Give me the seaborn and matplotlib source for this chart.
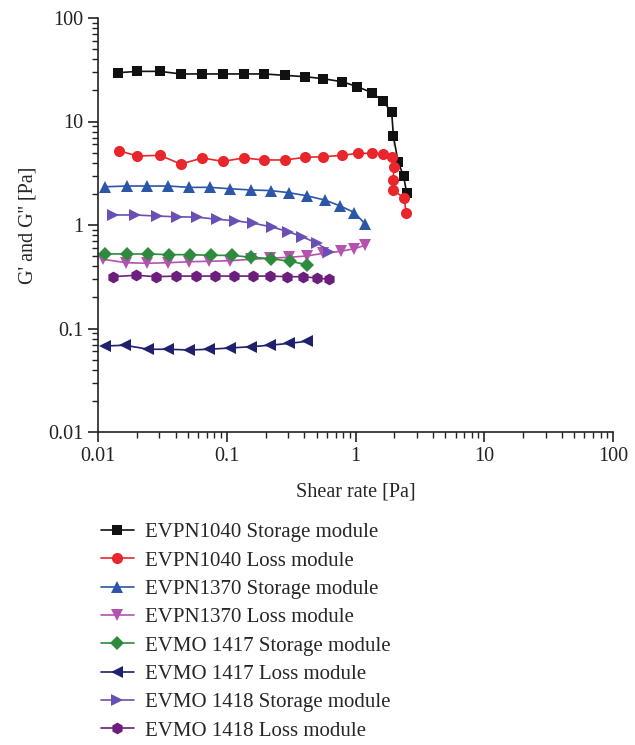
import numpy as np
import pandas as pd
import matplotlib
matplotlib.use("Agg")
import matplotlib.pyplot as plt
import matplotlib.ticker as mticker
import seaborn as sns

# ---------------------------------------------------------------------------
# Data
# ---------------------------------------------------------------------------
SERIES = [
    "EVPN1040 Storage module",
    "EVPN1040 Loss module",
    "EVPN1370 Storage module",
    "EVPN1370 Loss module",
    "EVMO 1417 Storage module",
    "EVMO 1417 Loss module",
    "EVMO 1418 Storage module",
    "EVMO 1418 Loss module",
]

evpn1040_g1_x = [0.0144, 0.020, 0.0303, 0.044, 0.0646, 0.093, 0.136, 0.195, 0.284, 0.406,
                 0.563, 0.791, 1.035, 1.34, 1.63, 1.91, 1.97, 1.97, 2.14, 2.36, 2.5]
evpn1040_g1_y = [29.6, 30.5, 30.5, 28.8, 28.8, 28.8, 28.8, 28.8, 27.9, 27.1,
                 25.9, 24.2, 21.7, 19.0, 15.8, 12.3, 8.6, 5.84, 4.09, 2.97, 2.05]

evpn1040_g2_x = [0.0146, 0.0202, 0.0303, 0.044, 0.0646, 0.093, 0.136, 0.195, 0.284, 0.406,
                 0.563, 0.79, 1.05, 1.34, 1.63, 1.91, 2.0, 1.95, 1.97, 2.39, 2.47]
evpn1040_g2_y = [5.22, 4.64, 4.71, 3.88, 4.44, 4.12, 4.44, 4.25, 4.25, 4.51,
                 4.57, 4.71, 4.93, 4.93, 4.85, 4.51, 3.61, 2.72, 2.18, 1.81, 1.32]

evpn1370_g1_x = [0.0113, 0.0167, 0.0242, 0.0352, 0.051, 0.0742, 0.106, 0.154, 0.220, 0.306,
                 0.423, 0.58, 0.759, 0.98, 1.19]
evpn1370_g1_y = [2.34, 2.38, 2.38, 2.38, 2.31, 2.31, 2.24, 2.18, 2.15, 2.05,
                 1.91, 1.74, 1.53, 1.32, 1.02]

evpn1370_g2_x = [0.0110, 0.0165, 0.0242, 0.0352, 0.051, 0.0729, 0.106, 0.154, 0.217, 0.306,
                 0.419, 0.563, 0.769, 0.975, 1.19]
evpn1370_g2_y = [0.466, 0.432, 0.427, 0.432, 0.442, 0.446, 0.452, 0.466, 0.477, 0.488,
                 0.502, 0.533, 0.557, 0.590, 0.637]

evmo1417_g1_x = [0.0113, 0.0167, 0.0246, 0.0356, 0.0519, 0.0751, 0.109, 0.155, 0.221, 0.310, 0.423]
evmo1417_g1_y = [0.525, 0.525, 0.525, 0.517, 0.517, 0.509, 0.509, 0.488, 0.472, 0.446, 0.413]

evmo1417_g2_x = [0.0113, 0.0162, 0.0246, 0.0352, 0.051, 0.0727, 0.106, 0.154, 0.217, 0.306, 0.419]
evmo1417_g2_y = [0.0678, 0.0689, 0.0630, 0.0630, 0.0620, 0.0630, 0.0648, 0.0667, 0.0689, 0.0719, 0.0752]

evmo1418_g1_x = [0.0131, 0.0194, 0.0286, 0.0413, 0.0591, 0.0836, 0.116, 0.161, 0.224, 0.301,
                 0.383, 0.506, 0.627]
evmo1418_g1_y = [1.25, 1.25, 1.22, 1.20, 1.19, 1.135, 1.10, 1.04, 0.957, 0.861,
                 0.771, 0.666, 0.552]

evmo1418_g2_x = [0.0130, 0.0197, 0.0282, 0.0404, 0.0577, 0.0816, 0.114, 0.159, 0.217, 0.296,
                 0.394, 0.500, 0.621]
evmo1418_g2_y = [0.3165, 0.327, 0.3165, 0.321, 0.321, 0.321, 0.321, 0.321, 0.321, 0.3165,
                 0.3165, 0.307, 0.299]

XS = [evpn1040_g1_x, evpn1040_g2_x, evpn1370_g1_x, evpn1370_g2_x,
      evmo1417_g1_x, evmo1417_g2_x, evmo1418_g1_x, evmo1418_g2_x]
YS = [evpn1040_g1_y, evpn1040_g2_y, evpn1370_g1_y, evpn1370_g2_y,
      evmo1417_g1_y, evmo1417_g2_y, evmo1418_g1_y, evmo1418_g2_y]

# ---------------------------------------------------------------------------
# Style
# ---------------------------------------------------------------------------
COLORS = ["#111111", "#E8262C", "#2C56A8", "#B552B0",
          "#2E8A3C", "#20216E", "#6A50B4", "#6B1E7C"]
MARKERS = ["s", "o", "^", "v", "D", "<", ">", "h"]
MSIZES = [7, 8, 8.5, 8.5, 7, 8.5, 8.5, 8.5]

sns.set_style("ticks")
plt.rcParams["font.family"] = ["Liberation Serif", "DejaVu Serif"]
plt.rcParams["font.size"] = 14.5
plt.rcParams["axes.linewidth"] = 1.2
plt.rcParams["axes.edgecolor"] = "#222222"

df = pd.concat(
    [pd.DataFrame({"x": x, "y": y, "series": name}) for name, x, y in zip(SERIES, XS, YS)],
    ignore_index=True,
)

fig = plt.figure(figsize=(6.35, 7.45), dpi=100)
ax = fig.add_axes([98 / 635, 1 - 432 / 745, (613 - 98) / 635, (432 - 18) / 745])

for name, color, marker, ms in zip(SERIES, COLORS, MARKERS, MSIZES):
    sns.lineplot(data=df[df["series"] == name], x="x", y="y", ax=ax, sort=False,
                 color=color, marker=marker, markersize=ms, markeredgewidth=0,
                 linewidth=1.2, label=name)

ax.set_xscale("log")
ax.set_yscale("log")
ax.set_xlim(0.01, 100)
ax.set_ylim(0.01, 100)
fmt = mticker.FuncFormatter(lambda v, _: f"{v:g}")
ax.xaxis.set_major_formatter(fmt)
ax.yaxis.set_major_formatter(fmt)
ax.xaxis.set_minor_formatter(mticker.NullFormatter())
ax.yaxis.set_minor_formatter(mticker.NullFormatter())
ax.tick_params(which="major", direction="out", length=7, width=1.2, labelsize=14.5, colors="#222222")
ax.tick_params(which="minor", direction="out", length=4, width=1.0, colors="#222222")
ax.set_xlabel("Shear rate [Pa]", fontsize=14.5, labelpad=12)
ax.set_ylabel("G' and G'' [Pa]", fontsize=14.5, labelpad=8)
sns.despine(ax=ax)

sns.move_legend(ax, "upper left", bbox_to_anchor=(-0.011, -0.199), frameon=False,
                title=None, fontsize=15, handlelength=1.6, handletextpad=0.55,
                labelspacing=0.42, borderaxespad=0)

fig.savefig("out.png", dpi=100)
